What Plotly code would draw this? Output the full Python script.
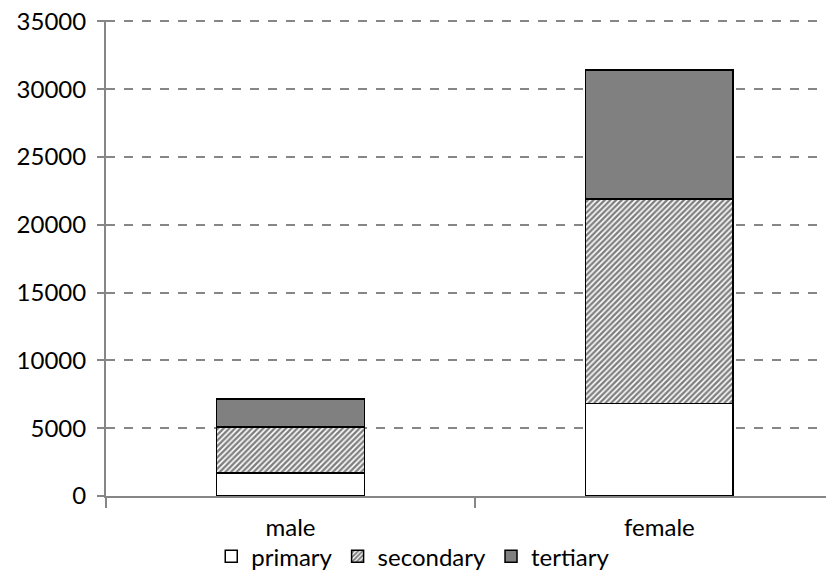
import plotly.graph_objects as go

# categorias e valores
categories = ["male", "female"]
primary = [1700, 6830]
secondary = [3400, 15060]
tertiary = [2050, 9540]

FONT = "Lato"
GRID = "#868686"

fig = go.Figure()

fig.add_trace(go.Bar(
    x=categories, y=primary, name="primary", width=0.4,
    marker=dict(color="white", line=dict(color="black", width=1.5)),
))
fig.add_trace(go.Bar(
    x=categories, y=secondary, name="secondary", width=0.4,
    marker=dict(
        color="white",
        line=dict(color="black", width=1.5),
        pattern=dict(shape="/", fgcolor="black", bgcolor="white", size=4, solidity=0.6),
    ),
))
fig.add_trace(go.Bar(
    x=categories, y=tertiary, name="tertiary", width=0.4,
    marker=dict(color="#808080", line=dict(color="black", width=1.5)),
))

# a página html tem margem de 8px no body, por isso as margens compensam
fig.update_layout(
    width=834,
    height=574,
    barmode="stack",
    plot_bgcolor="white",
    paper_bgcolor="white",
    margin=dict(l=98, r=0, t=12, b=86),
    font=dict(family=FONT, size=24, color="black"),
    legend=dict(
        orientation="h",
        traceorder="normal",
        x=0.143, xanchor="left",
        y=-0.08, yanchor="top",
        font=dict(size=24),
        itemwidth=30,
        bgcolor="rgba(0,0,0,0)",
    ),
    xaxis=dict(
        range=[-0.5, 1.495],
        automargin=False,
        showline=True, linecolor=GRID, linewidth=2,
        ticks="outside", tickson="boundaries", ticklen=10, tickcolor=GRID, tickwidth=2,
        showgrid=False, zeroline=False,
        ticklabelstandoff=9,
    ),
    yaxis=dict(
        range=[0, 35100],
        automargin=False,
        tickvals=[0, 5000, 10000, 15000, 20000, 25000, 30000, 35000],
        tickformat="d",
        ticklabeloverflow="allow",
        showline=True, linecolor=GRID, linewidth=2,
        ticks="outside", ticklen=7, tickcolor=GRID, tickwidth=2,
        showgrid=True, gridcolor=GRID, gridwidth=2, griddash="dash",
        zeroline=False,
        ticklabelstandoff=6,
    ),
)

fig.write_html("out.html", config={"displayModeBar": False})
